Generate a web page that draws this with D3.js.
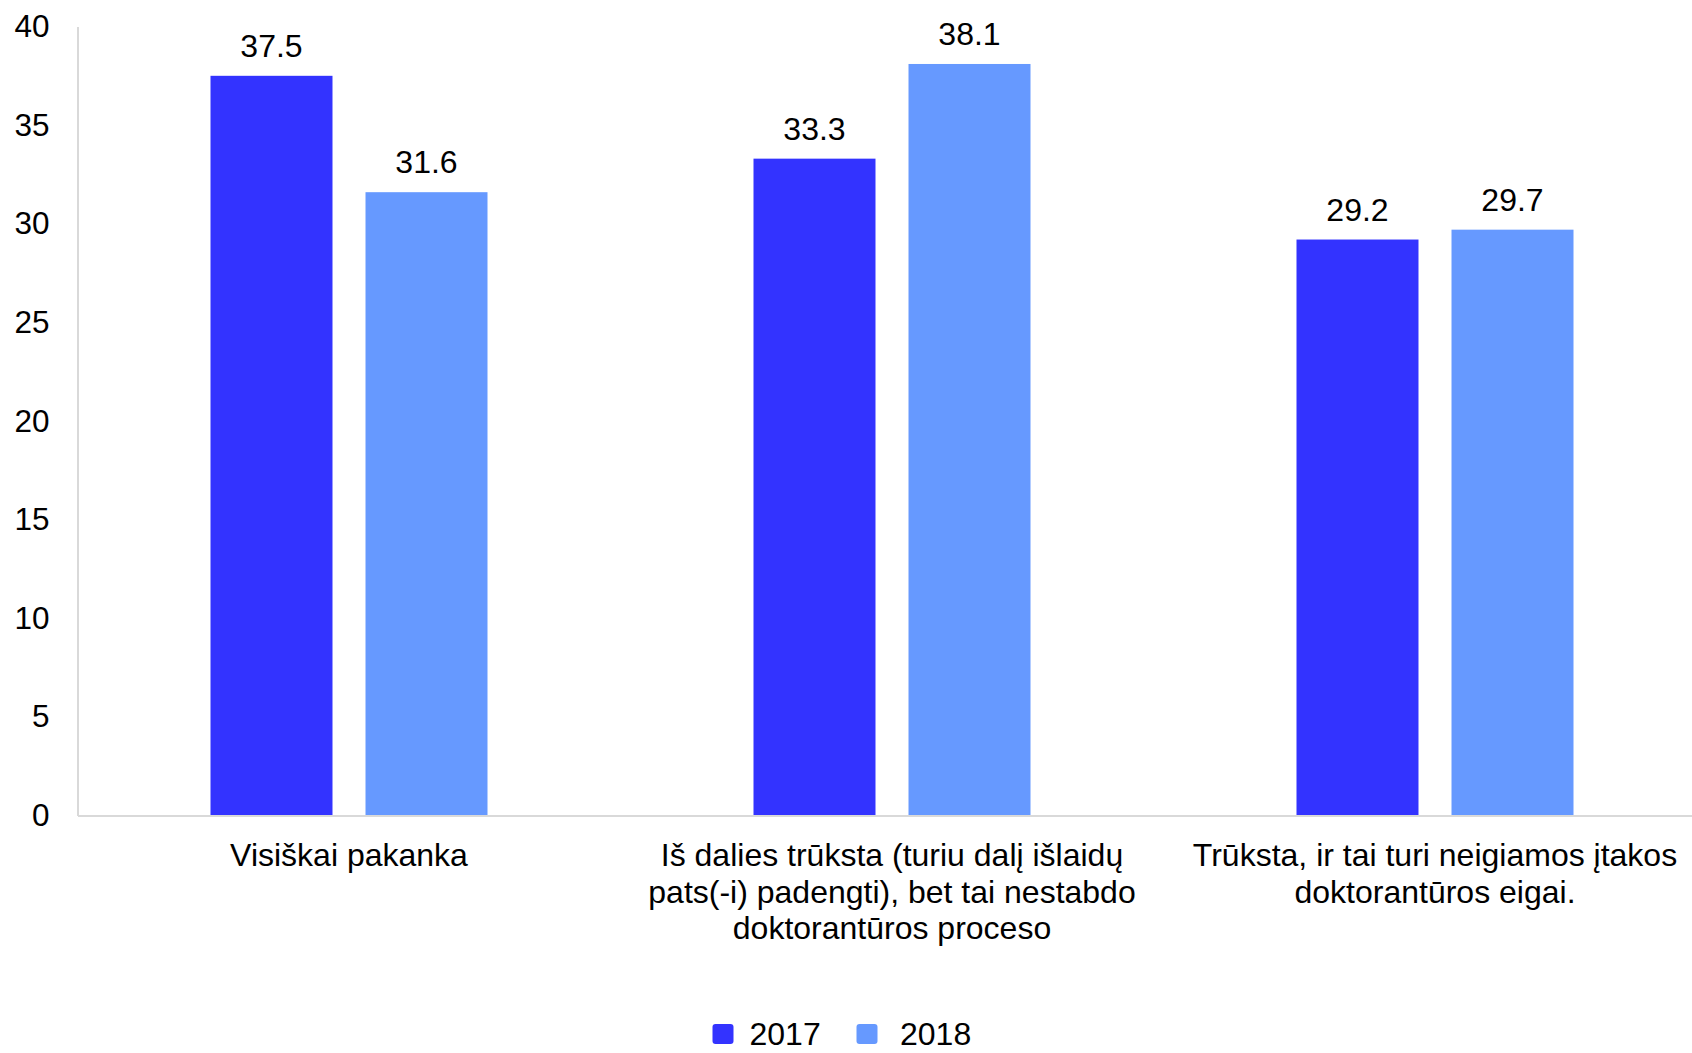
<!DOCTYPE html>
<html>
<head>
<meta charset="utf-8">
<script src="https://cdn.jsdelivr.net/npm/d3@7"></script>
<style>
  html, body { margin: 0; padding: 0; background: #fff; }
  svg { display: block; font-family: "Liberation Sans", Arial, sans-serif; }
</style>
</head>
<body>
<svg id="chart" width="1692" height="1053"></svg>
<script>
const categories = [
  "Visiškai pakanka",
  "Iš dalies trūksta (turiu dalį išlaidų pats(-i) padengti), bet tai nestabdo doktorantūros proceso",
  "Trūksta, ir tai turi neigiamos įtakos doktorantūros eigai."
];
const categoryLines = [
  ["Visiškai pakanka"],
  ["Iš dalies trūksta (turiu dalį išlaidų", "pats(-i) padengti), bet tai nestabdo", "doktorantūros proceso"],
  ["Trūksta, ir tai turi neigiamos įtakos", "doktorantūros eigai."]
];
const seriesNames = ["2017", "2018"];
const values2017 = [37.5, 33.3, 29.2];
const values2018 = [31.6, 38.1, 29.7];
const seriesColors = ["#3333FF", "#6699FF"];
const yTicks = [0, 5, 10, 15, 20, 25, 30, 35, 40];

(function () {
const seriesValues = [values2017, values2018];
const data = categories.map((c, i) => ({
  cat: c, i,
  vals: seriesNames.map((s, j) => ({ series: s, j, value: seriesValues[j][i] }))
}));

const svg = d3.select("#chart");
const mLeft = 77.5, mRight = 1706.5, mTop = 26.5, mBottom = 815.5;

const x = d3.scaleBand().domain(categories).range([mLeft, mRight]).paddingInner(0).paddingOuter(0);
const xs = d3.scaleBand().domain(seriesNames).range([0, x.bandwidth()]).paddingInner(0.213).paddingOuter(0.858);
const y = d3.scaleLinear().domain([0, 40]).range([mBottom, mTop]);

const fs = 32;

// Y axis
const yAxis = d3.axisLeft(y).tickValues(yTicks).tickSize(0).tickPadding(28).tickFormat(d3.format("d"));
const yg = svg.append("g").attr("transform", `translate(${mLeft},0)`).call(yAxis);
yg.select(".domain").attr("stroke", "#d9d9d9").attr("stroke-width", 2);
yg.selectAll("text").attr("font-size", 31.5).attr("fill", "#000").attr("font-family", "Liberation Sans, Arial, sans-serif");

// Bars
const groups = svg.append("g").selectAll("g").data(data).join("g")
  .attr("transform", d => `translate(${x(d.cat)},0)`);

groups.selectAll("rect").data(d => d.vals).join("rect")
  .attr("x", d => xs(d.series))
  .attr("y", d => y(d.value))
  .attr("width", xs.bandwidth())
  .attr("height", d => y(0) - y(d.value))
  .attr("fill", d => seriesColors[d.j]);

groups.selectAll("text.val").data(d => d.vals).join("text")
  .attr("class", "val")
  .attr("x", d => xs(d.series) + xs.bandwidth() / 2)
  .attr("y", d => y(d.value) - 19)
  .attr("text-anchor", "middle")
  .attr("font-size", fs)
  .attr("fill", "#000")
  .text(d => d3.format(".1f")(d.value));

// X axis baseline
const xAxis = d3.axisBottom(x).tickSize(0).tickFormat("");
const xg = svg.append("g").attr("transform", `translate(0,${mBottom})`).call(xAxis);
xg.select(".domain").attr("stroke", "#d9d9d9").attr("stroke-width", 2);

// Category labels
const lbl = svg.append("g").selectAll("text").data(data).join("text")
  .attr("text-anchor", "middle")
  .attr("font-size", fs)
  .attr("fill", "#000")
  .attr("x", d => x(d.cat) + x.bandwidth() / 2)
  .attr("y", 866);
lbl.selectAll("tspan").data(d => categoryLines[d.i]).join("tspan")
  .attr("x", function () { return d3.select(this.parentNode).attr("x"); })
  .attr("dy", (d, k) => k === 0 ? 0 : 36.5)
  .text(d => d);

// Legend
const legendX = [712.5, 856.5];
const legendTextX = [749.5, 900];
const lg = svg.append("g").selectAll("g").data(seriesNames).join("g");
lg.append("rect").attr("x", (d, i) => legendX[i]).attr("y", 1024)
  .attr("width", 21).attr("height", 20).attr("rx", 3)
  .attr("fill", (d, i) => seriesColors[i]);
lg.append("text").attr("x", (d, i) => legendTextX[i]).attr("y", 1045)
  .attr("font-size", fs).attr("fill", "#000").text(d => d);
})();
</script>
</body>
</html>
